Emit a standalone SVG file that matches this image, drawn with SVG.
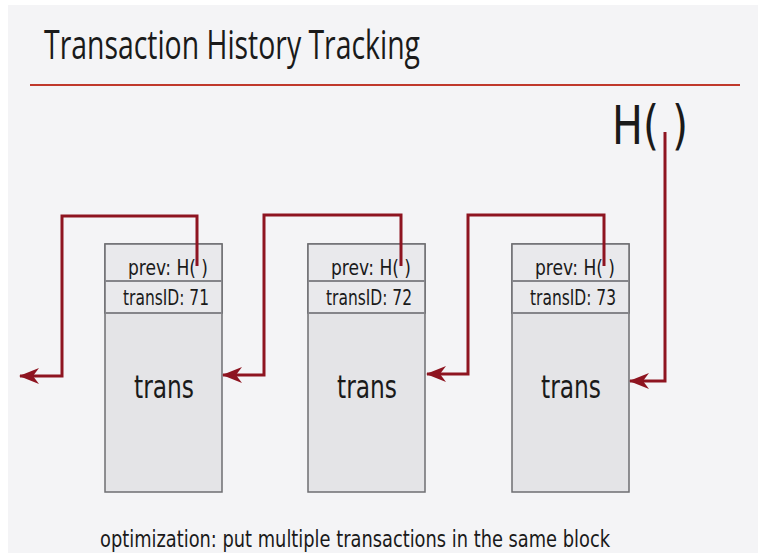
<svg xmlns="http://www.w3.org/2000/svg" width="761" height="556" viewBox="0 0 761 556">
<style>
.box{fill:#e4e4e7;stroke:#6e6e72;stroke-width:1.5}
.hdr{fill:#e9e9ec;stroke:#6e6e72;stroke-width:1.5}
.div{stroke:#85858a;stroke-width:2}
.t{font-family:"DejaVu Sans","Liberation Sans",sans-serif;fill:#1a1a1a}
.con{fill:none;stroke:#8e1420;stroke-width:3;stroke-linejoin:miter}
</style>
<defs>
<marker id="ah" markerUnits="userSpaceOnUse" viewBox="0 0 20 16" refX="19" refY="8" markerWidth="20" markerHeight="16" orient="auto">
<path d="M20,8 L0,0 L6,8 L0,16 Z" fill="#8e1420"/>
</marker>
</defs>
<rect x="0" y="0" width="761" height="556" fill="#ffffff"/>
<rect x="8" y="5" width="750" height="548" fill="#f4f4f6"/>
<g id="title">
<text class="t" x="44" y="59" font-size="40" textLength="376" lengthAdjust="spacingAndGlyphs" style="font-family:'Open Sans','DejaVu Sans',sans-serif">Transaction History Tracking</text>
<line x1="30" y1="85" x2="740" y2="85" stroke="#c0392b" stroke-width="2"/>
</g>
<g id="block1">
<rect class="box" x="105" y="244" width="117" height="248"/>
<rect class="hdr" x="105" y="244" width="117" height="69"/>
<line class="div" x1="105" y1="281" x2="222" y2="281"/>
<line class="div" x1="105" y1="313" x2="222" y2="313"/>
<text class="t" x="128" y="275" font-size="21" textLength="80" lengthAdjust="spacingAndGlyphs">prev: H( )</text>
<text class="t" x="123" y="305" font-size="22" textLength="86" lengthAdjust="spacingAndGlyphs">transID: 71</text>
<text class="t" x="134" y="398" font-size="32" textLength="60" lengthAdjust="spacingAndGlyphs">trans</text>
</g>
<g id="block2">
<rect class="box" x="308" y="244" width="117" height="248"/>
<rect class="hdr" x="308" y="244" width="117" height="69"/>
<line class="div" x1="308" y1="281" x2="425" y2="281"/>
<line class="div" x1="308" y1="313" x2="425" y2="313"/>
<text class="t" x="331" y="275" font-size="21" textLength="80" lengthAdjust="spacingAndGlyphs">prev: H( )</text>
<text class="t" x="326" y="305" font-size="22" textLength="86" lengthAdjust="spacingAndGlyphs">transID: 72</text>
<text class="t" x="337" y="398" font-size="32" textLength="60" lengthAdjust="spacingAndGlyphs">trans</text>
</g>
<g id="block3">
<rect class="box" x="512" y="244" width="117" height="248"/>
<rect class="hdr" x="512" y="244" width="117" height="69"/>
<line class="div" x1="512" y1="281" x2="629" y2="281"/>
<line class="div" x1="512" y1="313" x2="629" y2="313"/>
<text class="t" x="535" y="275" font-size="21" textLength="80" lengthAdjust="spacingAndGlyphs">prev: H( )</text>
<text class="t" x="530" y="305" font-size="22" textLength="86" lengthAdjust="spacingAndGlyphs">transID: 73</text>
<text class="t" x="541" y="398" font-size="32" textLength="60" lengthAdjust="spacingAndGlyphs">trans</text>
</g>
<g id="head">
<text class="t" x="612" y="144" font-size="54" textLength="76" lengthAdjust="spacingAndGlyphs">H( )</text>
</g>
<g id="connectors">
<path class="con" d="M197,266 V216 H62 V376 H20" marker-end="url(#ah)"/>
<path class="con" d="M401,266 V215 H264 V375 H223" marker-end="url(#ah)"/>
<path class="con" d="M604,266 V215 H468 V374 H427" marker-end="url(#ah)"/>
<path class="con" d="M665,132 V381 H630" marker-end="url(#ah)"/>
</g>
<g id="footer">
<text class="t" x="100" y="547" font-size="23" textLength="510" lengthAdjust="spacingAndGlyphs">optimization: put multiple transactions in the same block</text>
</g>
</svg>
